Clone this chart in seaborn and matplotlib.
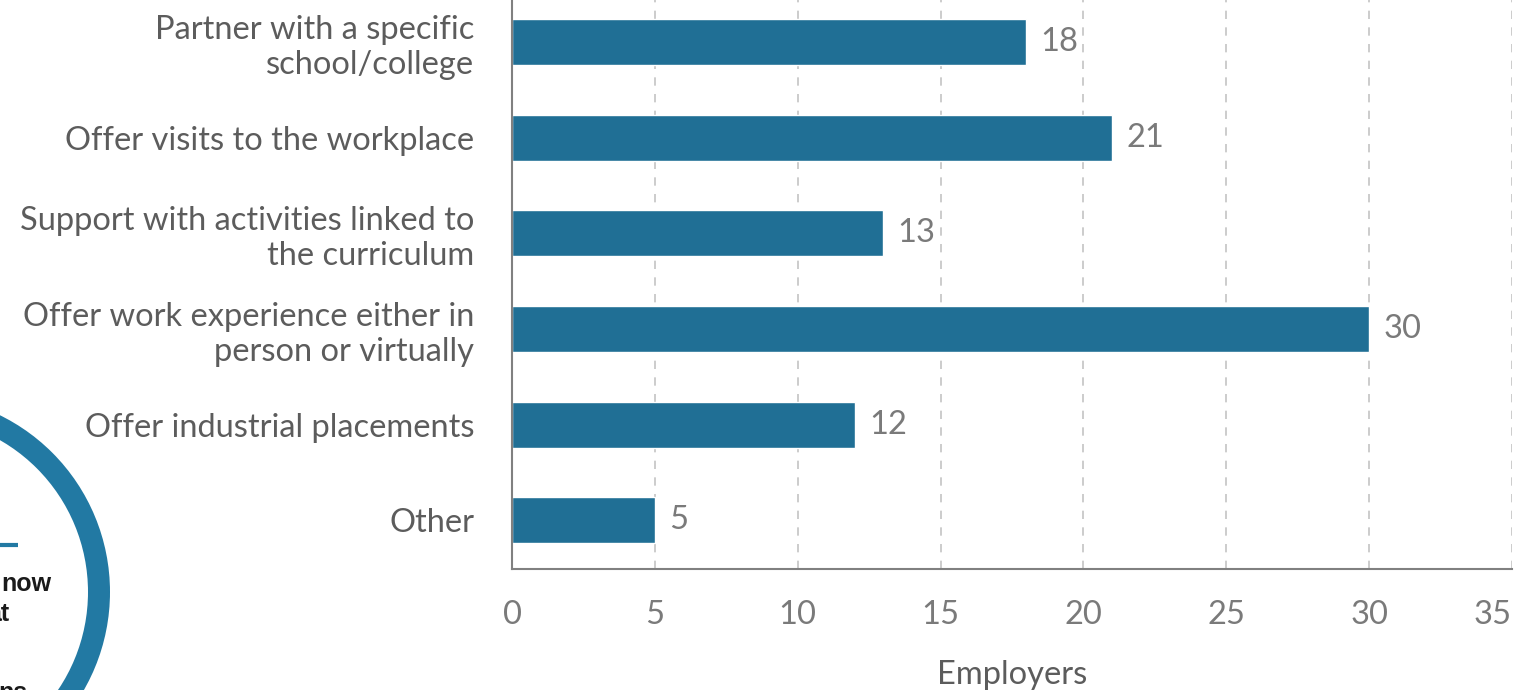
import matplotlib
matplotlib.use("Agg")
import matplotlib.pyplot as plt
import seaborn as sns
import pandas as pd
from matplotlib.patches import Circle

categories = [
    "Partner with a specific\nschool/college",
    "Offer visits to the workplace",
    "Support with activities linked to\nthe curriculum",
    "Offer work experience either in\nperson or virtually",
    "Offer industrial placements",
    "Other",
]
values = [18, 21, 13, 30, 12, 5]
xticks = [0, 5, 10, 15, 20, 25, 30, 35]
xlabel = "Employers"

BAR = "#206f95"
TXT = "#5c5c5c"
TICK = "#7a7a7a"
FS = 23.5

sns.set_theme(style="white")
plt.rcParams["font.family"] = ["Lato", "DejaVu Sans"]

W, H = 1531, 690
fig = plt.figure(figsize=(W / 100, H / 100), dpi=100)

# background fragment axes (pixel coordinates)
bg = fig.add_axes([0, 0, 1, 1], zorder=0)
bg.set_xlim(0, W)
bg.set_ylim(H, 0)
bg.axis("off")
bg.add_patch(Circle((-87, 592), 186, fill=False, lw=22 * 0.72, color="#2279a3"))
bg.plot([0, 18], [545, 545], color="#2279a3", lw=3, solid_capstyle="butt")
frag = dict(fontsize=18, fontweight="bold", color="#1a1a1a",
            family=["Liberation Sans", "DejaVu Sans"], va="baseline")
bg.text(1, 591, "now", ha="left", **frag)
bg.text(9, 621, "at", ha="right", **frag)
bg.text(-2, 700, "ns", ha="left", **frag)

ax = fig.add_axes([512 / W, 1 - 569 / H, 1000 / W, 569 / H], zorder=1)
ax.patch.set_alpha(0)
df = pd.DataFrame({"cat": categories, "val": values})
sns.barplot(data=df, x="val", y="cat", orient="h", color=BAR, width=0.48,
            saturation=1, ax=ax)

ax.set_xlim(0, 35)
ax.set_ylim(5.51, -0.44)
ax.set_xticks(xticks)
ax.set_xticklabels([str(t) for t in xticks])
ax.get_xticklabels()[-1].set_horizontalalignment("right")
ax.grid(axis="x", linestyle=(0, (5, 5)), color="#c4c4c4", lw=1.2)
ax.grid(axis="y", visible=False)
ax.set_axisbelow(True)
for s in ["top", "right"]:
    ax.spines[s].set_visible(False)
for s in ["left", "bottom"]:
    ax.spines[s].set_color("#808080")
    ax.spines[s].set_linewidth(1.5)
ax.tick_params(axis="y", length=0, pad=27, labelsize=FS, labelcolor=TXT)
ax.tick_params(axis="x", length=0, pad=22, labelsize=FS, labelcolor=TICK)
ax.set_ylabel("")
ax.set_xlabel(xlabel, fontsize=FS, color=TXT, labelpad=22)

for i, v in enumerate(values):
    ax.text(v + 0.5, i, str(v), va="center", ha="left", fontsize=FS,
            color=TICK)

fig.savefig("out.png", dpi=100)
